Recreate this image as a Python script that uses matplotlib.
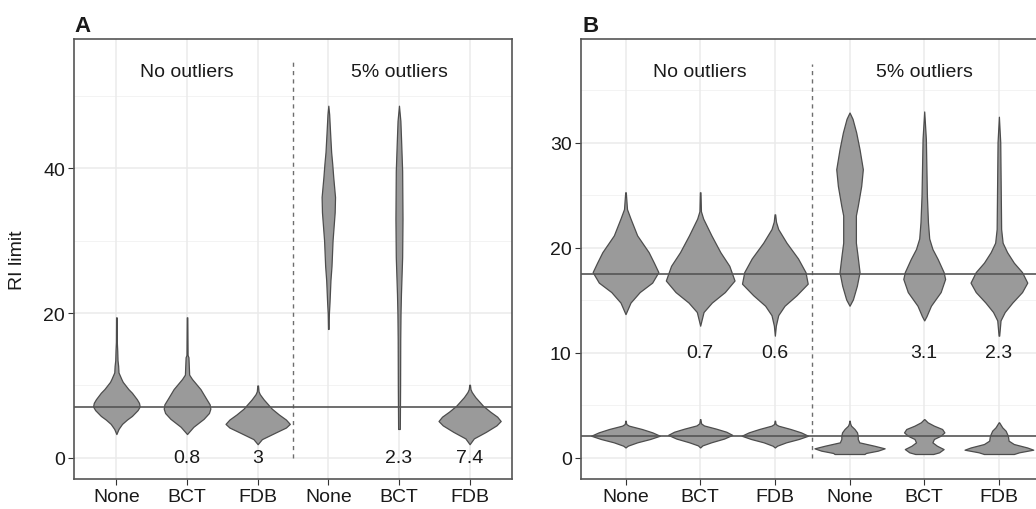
import matplotlib
matplotlib.use('Agg')
import matplotlib.pyplot as plt

plt.rcParams['font.family'] = ['Liberation Sans', 'DejaVu Sans']

# ---------------- data ----------------
categories = ['None', 'BCT', 'FDB', 'None', 'BCT', 'FDB']
group_names = ['No outliers', '5% outliers']

# Panel A violin profiles: value (RI limit) and half-width (category units)
A1_y = [3.3, 4.0, 4.7, 5.3, 5.8, 6.6, 7.1, 7.6, 8.1, 9.0, 9.5, 10.5, 10.9, 11.8, 12.7, 13.5, 14.8, 16.0, 19.4]
A1_w = [0.0, 0.03, 0.08, 0.15, 0.22, 0.30, 0.33, 0.32, 0.29, 0.22, 0.17, 0.09, 0.07, 0.03, 0.025, 0.016, 0.012, 0.006, 0.004]
A2_y = [3.3, 4.3, 5.4, 6.2, 6.8, 7.4, 8.2, 9.5, 10.9, 11.5, 13.9, 14.2, 19.4]
A2_w = [0.0, 0.09, 0.235, 0.31, 0.33, 0.32, 0.27, 0.19, 0.07, 0.03, 0.02, 0.008, 0.004]
A3_y = [1.9, 2.6, 3.5, 4.2, 4.7, 5.3, 6.0, 6.8, 8.1, 8.8, 9.2, 10.0]
A3_w = [0.0, 0.06, 0.25, 0.40, 0.455, 0.40, 0.30, 0.20, 0.083, 0.03, 0.012, 0.005]
A4_y = [17.8, 19.9, 21.5, 24.5, 26.5, 30.0, 33.9, 36.0, 38.7, 40.6, 42.2, 44.9, 47.4, 48.6]
A4_w = [0.004, 0.008, 0.017, 0.03, 0.045, 0.06, 0.09, 0.095, 0.07, 0.055, 0.04, 0.025, 0.012, 0.0]
A5_y = [4.0, 10.0, 16.4, 20.0, 22.6, 27.7, 33.0, 39.6, 43.3, 46.5, 48.6]
A5_w = [0.012, 0.016, 0.018, 0.022, 0.028, 0.045, 0.05, 0.045, 0.032, 0.02, 0.0]
A6_y = [1.9, 2.7, 3.6, 4.5, 5.1, 5.7, 6.4, 7.2, 8.4, 9.1, 9.5, 10.1]
A6_w = [0.0, 0.06, 0.23, 0.38, 0.44, 0.39, 0.29, 0.19, 0.08, 0.03, 0.012, 0.005]

# Panel B violin profiles (upper and lower group per category)
B1_y = [13.7, 14.8, 15.8, 16.7, 17.7, 18.6, 19.6, 21.2, 22.8, 23.7, 25.3]
B1_w = [0.0, 0.067, 0.19, 0.357, 0.44, 0.38, 0.31, 0.156, 0.067, 0.02, 0.004]
B2_y = [12.6, 13.9, 14.8, 15.8, 16.9, 18.3, 19.6, 21.2, 22.8, 23.5, 25.3]
B2_w = [0.0, 0.045, 0.156, 0.33, 0.46, 0.39, 0.27, 0.15, 0.04, 0.01, 0.004]
B3_y = [11.65, 12.6, 13.6, 14.5, 15.5, 16.6, 17.7, 19.0, 20.5, 21.8, 22.5, 23.2]
B3_w = [0.0, 0.013, 0.045, 0.13, 0.29, 0.44, 0.41, 0.31, 0.156, 0.045, 0.015, 0.004]
B4_y = [14.5, 15.1, 16.4, 17.7, 19.3, 20.5, 23.1, 24.0, 25.9, 27.5, 29.4, 31.0, 32.3, 32.9]
B4_w = [0.0, 0.045, 0.098, 0.134, 0.107, 0.085, 0.085, 0.11, 0.156, 0.178, 0.134, 0.089, 0.04, 0.0]
B5_y = [13.1, 13.5, 14.5, 15.8, 17.05, 17.7, 18.95, 19.9, 20.9, 22.45, 24.97, 30.4, 33.0]
B5_w = [0.0, 0.03, 0.09, 0.22, 0.28, 0.26, 0.18, 0.11, 0.067, 0.05, 0.036, 0.022, 0.0]
B6_y = [11.65, 13.1, 13.9, 14.8, 15.8, 16.7, 17.7, 18.6, 19.6, 20.5, 21.8, 30.06, 32.5]
B6_w = [0.004, 0.022, 0.078, 0.18, 0.31, 0.38, 0.31, 0.2, 0.11, 0.05, 0.03, 0.018, 0.0]
B7_y = [1.0, 1.17, 1.49, 1.81, 2.12, 2.44, 2.76, 3.08, 3.24, 3.55]
B7_w = [0.0, 0.03, 0.156, 0.33, 0.46, 0.36, 0.22, 0.045, 0.01, 0.003]
B8_y = [1.0, 1.2, 1.5, 1.85, 2.2, 2.5, 2.8, 3.1, 3.3, 3.7]
B8_w = [0.0, 0.03, 0.15, 0.32, 0.43, 0.35, 0.21, 0.05, 0.012, 0.003]
B9_y = [1.0, 1.17, 1.49, 1.81, 2.12, 2.44, 2.76, 3.08, 3.24, 3.55]
B9_w = [0.0, 0.03, 0.15, 0.32, 0.445, 0.35, 0.21, 0.045, 0.01, 0.003]
B10_y = [0.38, 0.48, 0.70, 0.92, 1.17, 1.49, 1.81, 2.12, 2.44, 2.76, 3.08, 3.3, 3.55]
B10_w = [0.2, 0.22, 0.38, 0.47, 0.33, 0.13, 0.11, 0.11, 0.1, 0.067, 0.02, 0.008, 0.003]
B11_y = [0.38, 0.54, 0.85, 1.17, 1.49, 1.81, 2.12, 2.44, 2.76, 3.08, 3.4, 3.7]
B11_w = [0.12, 0.2, 0.26, 0.17, 0.11, 0.13, 0.22, 0.27, 0.24, 0.13, 0.045, 0.003]
B12_y = [0.38, 0.54, 0.79, 1.0, 1.33, 1.65, 2.12, 2.6, 2.92, 3.4]
B12_w = [0.2, 0.27, 0.46, 0.38, 0.2, 0.13, 0.12, 0.09, 0.045, 0.003]

A_ref = [7.1]
B_ref = [17.5, 2.1]
A_numbers = ['', '0.8', '3', '', '2.3', '7.4']
B_numbers = ['', '0.7', '0.6', '', '3.1', '2.3']

A_violins = [(1, A1_y, A1_w), (2, A2_y, A2_w), (3, A3_y, A3_w),
             (4, A4_y, A4_w), (5, A5_y, A5_w), (6, A6_y, A6_w)]
B_violins = [(1, B1_y, B1_w), (2, B2_y, B2_w), (3, B3_y, B3_w),
             (4, B4_y, B4_w), (5, B5_y, B5_w), (6, B6_y, B6_w),
             (1, B7_y, B7_w), (2, B8_y, B8_w), (3, B9_y, B9_w),
             (4, B10_y, B10_w), (5, B11_y, B11_w), (6, B12_y, B12_w)]

# ---------------- figure ----------------
W, H = 1036, 510
fig = plt.figure(figsize=(W / 100, H / 100), dpi=100)

FS = 14
TXT = '#1a1a1a'


def setup(ax, ylim, major, minor, ylabel=None):
    ax.set_xlim(0.4, 6.6)
    ax.set_ylim(*ylim)
    ax.set_xticks(range(1, 7))
    ax.set_xticklabels(categories)
    ax.set_yticks(major)
    ax.set_yticks(minor, minor=True)
    ax.tick_params(axis='both', which='major', labelsize=FS, colors='#333333',
                   labelcolor=TXT, length=4, width=0.8, pad=2.5)
    ax.tick_params(axis='y', which='minor', length=0)
    for m in major:
        ax.axhline(m, color='#ebebeb', lw=1.1, zorder=0)
    for m in minor:
        ax.axhline(m, color='#f3f3f3', lw=0.7, zorder=0)
    for c in range(1, 7):
        ax.axvline(c, color='#ebebeb', lw=1.1, zorder=0)
    for s in ax.spines.values():
        ax.spines[s.spine_type].set_color('#555555') if False else None
    for name, sp in ax.spines.items():
        sp.set_color('#555555')
        sp.set_linewidth(1.2)


def draw_violins(ax, violins):
    for pos, ys, ws in violins:
        left = [pos - w for w in ws]
        right = [pos + w for w in ws]
        ax.fill_betweenx(ys, left, right, facecolor='#9a9a9a',
                         edgecolor='#4d4d4d', linewidth=0.9, zorder=2)


# Panel A
axA = fig.add_axes([74 / W, 30 / H, 438 / W, 440 / H])
setup(axA, (-2.9, 57.8), [0, 20, 40], [10, 30, 50])
draw_violins(axA, A_violins)
for r in A_ref:
    axA.axhline(r, color='#555555', lw=1.2, zorder=3)
axA.plot([3.5, 3.5], [0, 55], color='#6e6e6e', lw=1.0, ls=(0, (3, 3)), zorder=1.5)
axA.text(2, 52.65, group_names[0], ha='center', va='baseline', fontsize=FS, color=TXT)
axA.text(5, 52.65, group_names[1], ha='center', va='baseline', fontsize=FS, color=TXT)
for i, t in enumerate(A_numbers):
    if t:
        axA.text(i + 1, 0, t, ha='center', va='center', fontsize=FS, color=TXT, zorder=4)

# Panel B (extends past the right edge of the figure)
axB = fig.add_axes([580.7 / W, 30 / H, 463 / W, 440 / H])
setup(axB, (-2.0, 39.9), [0, 10, 20, 30], [5, 15, 25, 35])
draw_violins(axB, B_violins)
for r in B_ref:
    axB.axhline(r, color='#555555', lw=1.2, zorder=3)
axB.plot([3.5, 3.5], [0, 37.5], color='#6e6e6e', lw=1.0, ls=(0, (3, 3)), zorder=1.5)
axB.text(2, 36.35, group_names[0], ha='center', va='baseline', fontsize=FS, color=TXT)
axB.text(5, 36.35, group_names[1], ha='center', va='baseline', fontsize=FS, color=TXT)
for i, t in enumerate(B_numbers):
    if t:
        axB.text(i + 1, 10, t, ha='center', va='center', fontsize=FS, color=TXT, zorder=4)

fig.text(18 / W, 1 - 260 / H, 'RI limit', rotation=90, ha='center', va='center',
         fontsize=FS, color=TXT)
fig.text(74 / W, 1 - 31.7 / H, 'A', ha='left', va='baseline', fontsize=16,
         fontweight='bold', color=TXT)
fig.text(582.7 / W, 1 - 31.7 / H, 'B', ha='left', va='baseline', fontsize=16,
         fontweight='bold', color=TXT)

fig.savefig('out.png', dpi=100)
